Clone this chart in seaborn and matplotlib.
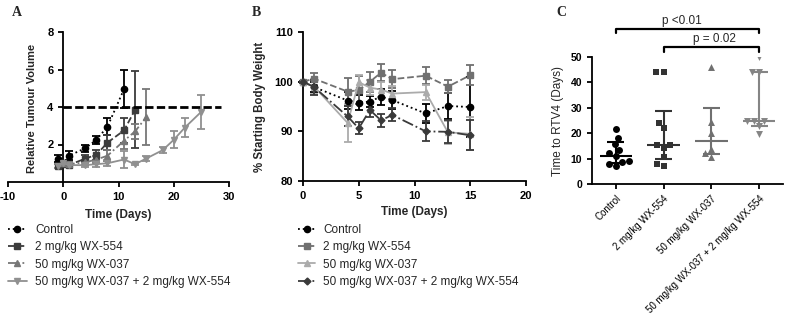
import matplotlib
matplotlib.use("Agg")
import matplotlib.pyplot as plt
import seaborn as sns

# ---- data ----
groups = ["Control", "2 mg/kg WX-554", "50 mg/kg WX-037", "50 mg/kg WX-037 + 2 mg/kg WX-554"]

# Panel A: relative tumour volume (mean +/- error)
rtv_days_ctrl = [-1, 0, 1, 4, 6, 8, 11]
rtv_ctrl = [1.25, 1.0, 1.4, 1.8, 2.25, 2.95, 4.95]
rtv_ctrl_err = [0.2, 0.1, 0.25, 0.2, 0.2, 0.45, 1.0]

rtv_days_554 = [-1, 0, 1, 4, 6, 8, 11, 13]
rtv_554 = [0.85, 0.95, 0.9, 1.25, 1.45, 2.1, 2.75, 3.85]
rtv_554_err = [0.1, 0.1, 0.1, 0.2, 0.25, 0.4, 0.65, 2.05]

rtv_days_037 = [0, 1, 4, 6, 8, 11, 13, 15]
rtv_037 = [1.0, 0.95, 1.05, 1.2, 1.4, 2.2, 2.7, 3.45]
rtv_037_err = [0.05, 0.1, 0.15, 0.2, 0.3, 0.45, 0.4, 1.5]

rtv_days_combo = [-1, 0, 1, 4, 6, 8, 11, 13, 15, 18, 20, 22, 25]
rtv_combo = [0.85, 1.0, 0.9, 0.9, 0.95, 1.0, 1.2, 0.95, 1.25, 1.7, 2.25, 2.9, 3.75]
rtv_combo_err = [0.1, 0.05, 0.1, 0.1, 0.15, 0.15, 0.45, 0.05, 0.15, 0.15, 0.45, 0.5, 0.9]

rtv_threshold = 4

# Panel B: % starting body weight
bw_days = [0, 1, 4, 5, 6, 7, 8, 11, 13, 15]
bw_ctrl = [100, 98.9, 96.2, 95.8, 96.0, 97.0, 96.3, 93.6, 95.1, 94.9]
bw_ctrl_err = [0.2, 1.0, 1.8, 1.5, 1.2, 1.6, 1.8, 1.9, 2.6, 6.0]
bw_554 = [100, 100.6, 98.0, 98.3, 100.0, 101.8, 100.5, 101.2, 99.0, 101.3]
bw_554_err = [0.2, 1.2, 2.8, 2.8, 2.0, 1.7, 1.8, 1.7, 1.3, 2.0]
bw_037 = [100, 99.0, 91.7, 99.9, 98.8, 98.4, 97.6, 97.9, 89.8, 89.5]
bw_037_err = [0.2, 1.5, 3.8, 1.5, 1.5, 1.5, 1.5, 1.5, 2.3, 3.3]
bw_combo = [100, 98.9, 93.0, 90.6, 94.3, 92.2, 93.3, 90.0, 89.9, 89.2]
bw_combo_err = [0.2, 1.5, 2.0, 1.2, 1.5, 1.3, 1.3, 2.0, 2.3, 3.0]

# Panel C: time to RTV4 per animal, with median and IQR
rtv4_ctrl = [21.7, 18.2, 15.8, 13.5, 12.3, 11.0, 9.0, 8.5, 8.0, 7.0]
rtv4_554 = [44.0, 44.0, 23.9, 21.9, 15.2, 15.2, 14.0, 10.5, 8.0, 7.1]
rtv4_037 = [45.9, 24.5, 20.2, 13.6, 12.1, 10.5]
rtv4_combo = [50.1, 44.0, 44.0, 24.8, 24.8, 24.8, 22.8, 19.6]
rtv4_median = [11.0, 15.3, 17.0, 24.7]
rtv4_q1 = [8.2, 9.8, 11.8, 22.8]
rtv4_q3 = [16.5, 28.7, 29.9, 44.0]

# ---- style ----
sns.set_style("ticks")
plt.rcParams['font.family'] = ['Liberation Sans', 'DejaVu Sans']
plt.rcParams['axes.linewidth'] = 1.3
plt.rcParams['xtick.major.width'] = 1.3
plt.rcParams['ytick.major.width'] = 1.3
plt.rcParams['xtick.major.size'] = 3.5
plt.rcParams['ytick.major.size'] = 3.5
plt.rcParams['xtick.color'] = 'black'
plt.rcParams['ytick.color'] = 'black'
plt.rcParams['axes.edgecolor'] = 'black'

W, H = 785, 314
fig = plt.figure(figsize=(W / 100, H / 100), dpi=100)


def box(l, t, r, b):
    return [l / W, 1 - b / H, (r - l) / W, (b - t) / H]


axA = fig.add_axes(box(8, 32, 229, 182))
axB = fig.add_axes(box(303, 32, 526, 181))
axC = fig.add_axes(box(592, 57, 783, 184))

TICK_FS = 8
LABEL_FS = 8.5


def draw_series(ax, x, y, err, color, ls, marker, ms=4.5):
    ax.errorbar(x, y, yerr=err, fmt='none', ecolor=color, elinewidth=1.3,
                capsize=2.6, capthick=1.3, clip_on=False, zorder=2)
    line, = ax.plot(x, y, ls=ls, color=color, marker=marker, ms=ms, lw=1.3,
                    clip_on=False, zorder=3)
    return line


# ---- Panel A ----
a_colors = ['black', '#3c3c3c', '#777777', '#909090']
handles_a = [
    draw_series(axA, rtv_days_ctrl, rtv_ctrl, rtv_ctrl_err, a_colors[0], ':', 'o'),
    draw_series(axA, rtv_days_554, rtv_554, rtv_554_err, a_colors[1], '--', 's'),
    draw_series(axA, rtv_days_037, rtv_037, rtv_037_err, a_colors[2], '-.', '^'),
    draw_series(axA, rtv_days_combo, rtv_combo, rtv_combo_err, a_colors[3], '-', 'v'),
]
axA.hlines(rtv_threshold, 0, 28.5, colors='black', linestyles=(0, (3, 1.2)), lw=2, zorder=4)
axA.set_xlim(-10, 30)
axA.set_ylim(0, 8)
axA.spines['left'].set_position(('data', 0))
sns.despine(ax=axA)
axA.set_xticks([-10, 0, 10, 20, 30], labels=['-10', '0', '10', '20', '30'],
               fontweight='bold', fontsize=TICK_FS)
axA.set_yticks([2, 4, 6, 8], labels=['2', '4', '6', '8'], fontweight='bold', fontsize=TICK_FS)
axA.set_xlabel('Time (Days)', fontweight='bold', fontsize=LABEL_FS, labelpad=5)
axA.text(32 / W, 1 - 108 / H, 'Relative Tumour Volume', transform=fig.transFigure,
         rotation=90, ha='center', va='center', fontweight='bold', fontsize=8)

# ---- Panel B ----
b_colors = ['black', '#707070', '#ababab', '#3a3a3a']
handles_b = [
    draw_series(axB, bw_days, bw_ctrl, bw_ctrl_err, b_colors[0], ':', 'o'),
    draw_series(axB, bw_days, bw_554, bw_554_err, b_colors[1], '--', 's'),
    draw_series(axB, bw_days, bw_037, bw_037_err, b_colors[2], '-', '^'),
    draw_series(axB, bw_days, bw_combo, bw_combo_err, b_colors[3], '-.', 'D', ms=3.5),
]
axB.set_xlim(0, 20)
axB.set_ylim(80, 110)
sns.despine(ax=axB)
axB.set_xticks([0, 5, 10, 15, 20], labels=['0', '5', '10', '15', '20'],
               fontweight='bold', fontsize=TICK_FS)
axB.set_yticks([80, 90, 100, 110], labels=['80', '90', '100', '110'],
               fontweight='bold', fontsize=TICK_FS)
axB.set_xlabel('Time (Days)', fontweight='bold', fontsize=LABEL_FS, labelpad=4)
axB.set_ylabel('% Starting Body Weight', fontweight='bold', fontsize=8.3, labelpad=6)

# ---- legends ----
leg_kw = dict(loc='upper left', frameon=False, fontsize=8.5, borderpad=0,
              borderaxespad=0, labelspacing=0.45, handletextpad=0.7)
fig.legend(handles_a, groups, bbox_to_anchor=(8 / W, 1 - 224 / H), handlelength=1.6, **leg_kw)
fig.legend(handles_b, groups, bbox_to_anchor=(298 / W, 1 - 224 / H), handlelength=1.45, **leg_kw)

# ---- Panel C ----
c_values = [rtv4_ctrl, rtv4_554, rtv4_037, rtv4_combo]
c_colors = ['black', '#333333', '#707070', '#858585']
c_markers = ['o', 's', '^', 'v']
for g, vals, col, m in zip(groups, c_values, c_colors, c_markers):
    sns.swarmplot(x=[g] * len(vals), y=vals, order=groups, color=col, marker=m,
                  size=5, ax=axC, zorder=3)
for i, col in enumerate(c_colors):
    axC.hlines(rtv4_median[i], i - 0.34, i + 0.34, color=col, lw=1.5, zorder=4)
    axC.vlines(i, rtv4_q1[i], rtv4_q3[i], color=col, lw=1.5, zorder=4)
    axC.hlines([rtv4_q1[i], rtv4_q3[i]], i - 0.18, i + 0.18, color=col, lw=1.5, zorder=4)

axC.set_xlim(-0.5, 3.5)
axC.set_ylim(0, 50)
sns.despine(ax=axC)
axC.set_xticks(range(len(groups)))
axC.set_xticklabels(groups, rotation=45, ha='right', rotation_mode='anchor', fontsize=7)
axC.set_yticks([0, 10, 20, 30, 40, 50], labels=['0', '10', '20', '30', '40', '50'],
               fontweight='bold', fontsize=7.5)
axC.set_xlabel('')
axC.set_ylabel('Time to RTV4 (Days)', fontsize=8.5, labelpad=5)

# significance brackets
axC.plot([0, 0, 3, 3], [59.3, 60.9, 60.9, 59.3], color='black', lw=1.6, clip_on=False)
axC.text(1.38, 64.3, 'p <0.01', ha='center', va='center', fontsize=8.5, clip_on=False)
axC.plot([1, 1, 3, 3], [52.1, 54.1, 54.1, 52.1], color='black', lw=1.6, clip_on=False)
axC.text(2.06, 57.0, 'p = 0.02', ha='center', va='center', fontsize=8.5, clip_on=False)

# panel letters
for letter, x in [('A', 17), ('B', 256), ('C', 561)]:
    fig.text(x / W, 1 - 12 / H, letter, ha='center', va='center', fontsize=10,
             fontweight='bold', family=['Liberation Serif', 'DejaVu Serif'])

fig.savefig('out.png', dpi=100)
plt.close(fig)
